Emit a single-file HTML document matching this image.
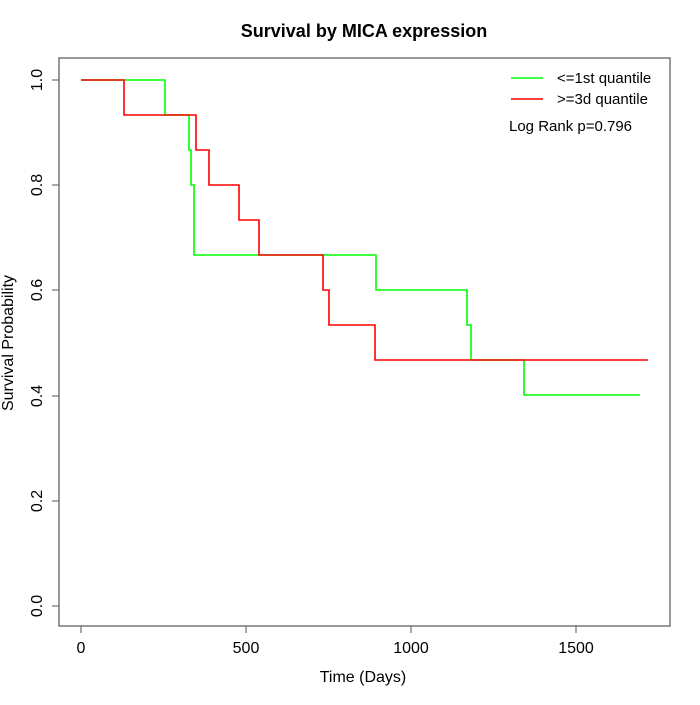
<!DOCTYPE html>
<html><head><meta charset="utf-8"><style>body{margin:0;background:#fff}</style></head><body>
<svg width="700" height="700" xmlns="http://www.w3.org/2000/svg" font-family="Liberation Sans, sans-serif">
<rect width="700" height="700" fill="#fff"/>
<text x="364" y="37" text-anchor="middle" font-size="18" font-weight="bold">Survival by MICA expression</text>
<rect x="59" y="58" width="611" height="568" fill="none" stroke="#555" stroke-width="1.2"/>
<g stroke="#555" stroke-width="1">
<line x1="81" y1="626" x2="576" y2="626"/>
<line x1="81" y1="626" x2="81" y2="633"/><line x1="246" y1="626" x2="246" y2="633"/><line x1="411" y1="626" x2="411" y2="633"/><line x1="576" y1="626" x2="576" y2="633"/>
<line x1="59" y1="80" x2="59" y2="606"/>
<line x1="52" y1="80" x2="59" y2="80"/><line x1="52" y1="185" x2="59" y2="185"/><line x1="52" y1="290" x2="59" y2="290"/><line x1="52" y1="396" x2="59" y2="396"/><line x1="52" y1="501" x2="59" y2="501"/><line x1="52" y1="606" x2="59" y2="606"/>
</g>
<g font-size="16" text-anchor="middle">
<text x="81" y="653">0</text><text x="246" y="653">500</text><text x="411" y="653">1000</text><text x="576" y="653">1500</text>
<text x="363" y="682">Time (Days)</text>
<g transform="translate(42,0)">
<text transform="translate(0,80) rotate(-90)">1.0</text>
<text transform="translate(0,185) rotate(-90)">0.8</text>
<text transform="translate(0,290) rotate(-90)">0.6</text>
<text transform="translate(0,396) rotate(-90)">0.4</text>
<text transform="translate(0,501) rotate(-90)">0.2</text>
<text transform="translate(0,606) rotate(-90)">0.0</text>
</g>
<text transform="translate(13,343) rotate(-90)">Survival Probability</text>
</g>
<polyline fill="none" stroke="#00ff00" stroke-width="1.6" points="81,80 165,80 165,115 189,115 189,150 191,150 191,185 194,185 194,255 376,255 376,290 467,290 467,325 471,325 471,360 524,360 524,395 640,395"/>
<polyline fill="none" stroke="#ff0000" stroke-width="1.6" points="81,80 124,80 124,115 196,115 196,150 209,150 209,185 239,185 239,220 259,220 259,255 323,255 323,290 329,290 329,325 375,325 375,360 648,360"/>
<line x1="511" y1="78" x2="543" y2="78" stroke="#00ff00" stroke-width="1.6"/>
<line x1="511" y1="99" x2="543" y2="99" stroke="#ff0000" stroke-width="1.6"/>
<g font-size="15">
<text x="557" y="83">&lt;=1st quantile</text>
<text x="557" y="104">&gt;=3d quantile</text>
<text x="509" y="131">Log Rank p=0.796</text>
</g>
</svg>
</body></html>
